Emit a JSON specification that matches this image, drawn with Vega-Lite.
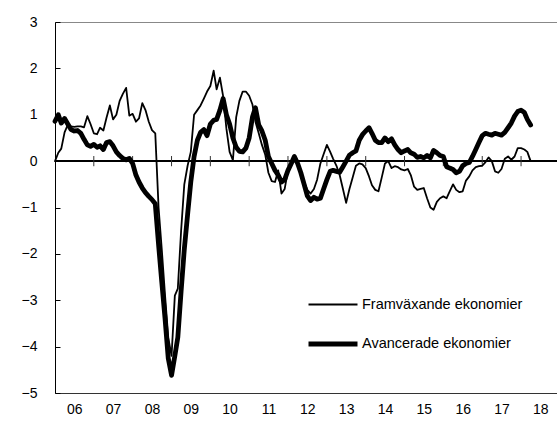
{
  "$schema": "https://vega.github.io/schema/vega-lite/v6.json",
  "width": 502,
  "height": 371,
  "autosize": {"type": "none"},
  "padding": {"left": 55, "top": 22, "right": 0, "bottom": 33},
  "background": "white",
  "config": {
    "view": {"stroke": "#888", "strokeWidth": 1},
    "font": "Liberation Sans, Arial, sans-serif"
  },
  "data": {
    "values": [
      {"d":"2006-01-01","F":0.00,"A":0.86},{"d":"2006-02-01","F":0.18,"A":1.00},{"d":"2006-03-01","F":0.27,"A":0.82},{"d":"2006-04-01","F":0.62,"A":0.92},{"d":"2006-05-01","F":0.78,"A":0.80},{"d":"2006-06-01","F":0.75,"A":0.68},{"d":"2006-07-01","F":0.74,"A":0.65},{"d":"2006-08-01","F":0.75,"A":0.66},{"d":"2006-09-01","F":0.75,"A":0.60},{"d":"2006-10-01","F":0.73,"A":0.47},{"d":"2006-11-01","F":0.97,"A":0.35},{"d":"2006-12-01","F":0.80,"A":0.32},
      {"d":"2007-01-01","F":0.60,"A":0.36},{"d":"2007-02-01","F":0.58,"A":0.30},{"d":"2007-03-01","F":0.72,"A":0.33},{"d":"2007-04-01","F":0.66,"A":0.25},{"d":"2007-05-01","F":0.94,"A":0.40},{"d":"2007-06-01","F":1.20,"A":0.42},{"d":"2007-07-01","F":0.90,"A":0.33},{"d":"2007-08-01","F":1.00,"A":0.20},{"d":"2007-09-01","F":1.30,"A":0.12},{"d":"2007-10-01","F":1.45,"A":0.06},{"d":"2007-11-01","F":1.58,"A":0.03},{"d":"2007-12-01","F":0.98,"A":0.06},
      {"d":"2008-01-01","F":1.02,"A":-0.05},{"d":"2008-02-01","F":0.85,"A":-0.30},{"d":"2008-03-01","F":0.92,"A":-0.45},{"d":"2008-04-01","F":1.25,"A":-0.58},{"d":"2008-05-01","F":1.10,"A":-0.68},{"d":"2008-06-01","F":0.85,"A":-0.76},{"d":"2008-07-01","F":0.67,"A":-0.83},{"d":"2008-08-01","F":0.60,"A":-0.92},{"d":"2008-09-01","F":-1.00,"A":-1.80},{"d":"2008-10-01","F":-1.90,"A":-2.60},{"d":"2008-11-01","F":-2.90,"A":-3.40},{"d":"2008-12-01","F":-3.80,"A":-4.25},
      {"d":"2009-01-01","F":-4.20,"A":-4.62},{"d":"2009-02-01","F":-2.90,"A":-4.20},{"d":"2009-03-01","F":-2.75,"A":-3.80},{"d":"2009-04-01","F":-1.50,"A":-2.80},{"d":"2009-05-01","F":-0.50,"A":-1.90},{"d":"2009-06-01","F":-0.10,"A":-1.15},{"d":"2009-07-01","F":0.20,"A":-0.45},{"d":"2009-08-01","F":1.00,"A":0.10},{"d":"2009-09-01","F":1.10,"A":0.45},{"d":"2009-10-01","F":1.20,"A":0.62},{"d":"2009-11-01","F":1.35,"A":0.68},{"d":"2009-12-01","F":1.50,"A":0.55},
      {"d":"2010-01-01","F":1.62,"A":0.80},{"d":"2010-02-01","F":1.95,"A":0.88},{"d":"2010-03-01","F":1.55,"A":0.90},{"d":"2010-04-01","F":1.80,"A":1.10},{"d":"2010-05-01","F":1.40,"A":1.35},{"d":"2010-06-01","F":0.70,"A":1.00},{"d":"2010-07-01","F":0.20,"A":0.80},{"d":"2010-08-01","F":0.02,"A":0.50},{"d":"2010-09-01","F":0.95,"A":0.30},{"d":"2010-10-01","F":1.30,"A":0.21},{"d":"2010-11-01","F":1.50,"A":0.20},{"d":"2010-12-01","F":1.50,"A":0.28},
      {"d":"2011-01-01","F":1.41,"A":0.50},{"d":"2011-02-01","F":1.22,"A":0.95},{"d":"2011-03-01","F":0.85,"A":1.15},{"d":"2011-04-01","F":0.60,"A":0.78},{"d":"2011-05-01","F":0.35,"A":0.65},{"d":"2011-06-01","F":0.14,"A":0.45},{"d":"2011-07-01","F":-0.25,"A":0.10},{"d":"2011-08-01","F":-0.43,"A":-0.05},{"d":"2011-09-01","F":-0.45,"A":-0.20},{"d":"2011-10-01","F":-0.20,"A":-0.30},{"d":"2011-11-01","F":-0.70,"A":-0.45},{"d":"2011-12-01","F":-0.60,"A":-0.40},
      {"d":"2012-01-01","F":-0.20,"A":-0.20},{"d":"2012-02-01","F":-0.08,"A":-0.05},{"d":"2012-03-01","F":0.10,"A":0.10},{"d":"2012-04-01","F":-0.05,"A":-0.05},{"d":"2012-05-01","F":-0.27,"A":-0.25},{"d":"2012-06-01","F":-0.45,"A":-0.50},{"d":"2012-07-01","F":-0.62,"A":-0.75},{"d":"2012-08-01","F":-0.70,"A":-0.85},{"d":"2012-09-01","F":-0.60,"A":-0.78},{"d":"2012-10-01","F":-0.40,"A":-0.82},{"d":"2012-11-01","F":-0.05,"A":-0.80},{"d":"2012-12-01","F":0.15,"A":-0.60},
      {"d":"2013-01-01","F":0.35,"A":-0.40},{"d":"2013-02-01","F":0.20,"A":-0.22},{"d":"2013-03-01","F":0.05,"A":-0.20},{"d":"2013-04-01","F":-0.10,"A":-0.22},{"d":"2013-05-01","F":-0.30,"A":-0.24},{"d":"2013-06-01","F":-0.60,"A":-0.12},{"d":"2013-07-01","F":-0.90,"A":0.00},{"d":"2013-08-01","F":-0.60,"A":0.13},{"d":"2013-09-01","F":-0.35,"A":0.18},{"d":"2013-10-01","F":-0.10,"A":0.22},{"d":"2013-11-01","F":-0.05,"A":0.45},{"d":"2013-12-01","F":-0.07,"A":0.57},
      {"d":"2014-01-01","F":-0.15,"A":0.65},{"d":"2014-02-01","F":-0.33,"A":0.72},{"d":"2014-03-01","F":-0.52,"A":0.60},{"d":"2014-04-01","F":-0.62,"A":0.45},{"d":"2014-05-01","F":-0.65,"A":0.40},{"d":"2014-06-01","F":-0.35,"A":0.40},{"d":"2014-07-01","F":-0.05,"A":0.50},{"d":"2014-08-01","F":0.00,"A":0.42},{"d":"2014-09-01","F":-0.15,"A":0.48},{"d":"2014-10-01","F":-0.11,"A":0.35},{"d":"2014-11-01","F":-0.13,"A":0.25},{"d":"2014-12-01","F":-0.18,"A":0.18},
      {"d":"2015-01-01","F":-0.20,"A":0.22},{"d":"2015-02-01","F":-0.17,"A":0.25},{"d":"2015-03-01","F":-0.30,"A":0.18},{"d":"2015-04-01","F":-0.55,"A":0.15},{"d":"2015-05-01","F":-0.62,"A":0.08},{"d":"2015-06-01","F":-0.60,"A":0.10},{"d":"2015-07-01","F":-0.58,"A":0.07},{"d":"2015-08-01","F":-0.80,"A":0.12},{"d":"2015-09-01","F":-1.00,"A":0.07},{"d":"2015-10-01","F":-1.05,"A":0.23},{"d":"2015-11-01","F":-0.88,"A":0.18},{"d":"2015-12-01","F":-0.80,"A":0.12},
      {"d":"2016-01-01","F":-0.76,"A":0.10},{"d":"2016-02-01","F":-0.80,"A":-0.12},{"d":"2016-03-01","F":-0.65,"A":-0.15},{"d":"2016-04-01","F":-0.50,"A":-0.18},{"d":"2016-05-01","F":-0.62,"A":-0.25},{"d":"2016-06-01","F":-0.67,"A":-0.22},{"d":"2016-07-01","F":-0.65,"A":-0.10},{"d":"2016-08-01","F":-0.42,"A":-0.05},{"d":"2016-09-01","F":-0.33,"A":-0.03},{"d":"2016-10-01","F":-0.20,"A":0.10},{"d":"2016-11-01","F":-0.13,"A":0.25},{"d":"2016-12-01","F":-0.11,"A":0.40},
      {"d":"2017-01-01","F":-0.10,"A":0.55},{"d":"2017-02-01","F":-0.02,"A":0.60},{"d":"2017-03-01","F":0.08,"A":0.58},{"d":"2017-04-01","F":0.00,"A":0.56},{"d":"2017-05-01","F":-0.22,"A":0.60},{"d":"2017-06-01","F":-0.25,"A":0.58},{"d":"2017-07-01","F":-0.17,"A":0.56},{"d":"2017-08-01","F":0.05,"A":0.62},{"d":"2017-09-01","F":0.10,"A":0.72},{"d":"2017-10-01","F":0.03,"A":0.82},{"d":"2017-11-01","F":0.10,"A":0.97},{"d":"2017-12-01","F":0.28,"A":1.07},
      {"d":"2018-01-01","F":0.28,"A":1.10},{"d":"2018-02-01","F":0.25,"A":1.05},{"d":"2018-03-01","F":0.20,"A":0.90},{"d":"2018-04-01","F":0.00,"A":0.78}
    ]
  },
  "layer": [
    {
      "mark": {"type": "rule", "color": "black", "strokeWidth": 1},
      "encoding": {"y": {"datum": 0, "type": "quantitative"}}
    },
    {
      "data": {"values": [
        {"yr":"2007-01-01"},{"yr":"2008-01-01"},{"yr":"2009-01-01"},{"yr":"2010-01-01"},{"yr":"2011-01-01"},{"yr":"2012-01-01"},
        {"yr":"2013-01-01"},{"yr":"2014-01-01"},{"yr":"2015-01-01"},{"yr":"2016-01-01"},{"yr":"2017-01-01"},{"yr":"2018-01-01"}
      ]},
      "mark": {"type": "rule", "color": "#333", "strokeWidth": 1},
      "encoding": {
        "x": {"field": "yr", "type": "temporal"},
        "y": {"datum": -0.11, "type": "quantitative"},
        "y2": {"datum": 0.11}
      }
    },
    {
      "transform": [{"fold": ["A", "F"], "as": ["series", "v"]}],
      "mark": {"type": "line", "color": "black", "strokeJoin": "round", "strokeCap": "round"},
      "encoding": {
        "x": {
          "field": "d",
          "type": "temporal",
          "scale": {
            "type": "utc",
            "domain": [{"year": 2006, "month": 1, "date": 1, "utc": true}, {"year": 2018, "month": 12, "date": 5, "utc": true}],
            "nice": false
          },
          "axis": {
            "title": null,
            "values": [
              {"year": 2006, "month": 7, "date": 1, "utc": true},{"year": 2007, "month": 7, "date": 1, "utc": true},{"year": 2008, "month": 7, "date": 1, "utc": true},
              {"year": 2009, "month": 7, "date": 1, "utc": true},{"year": 2010, "month": 7, "date": 1, "utc": true},{"year": 2011, "month": 7, "date": 1, "utc": true},
              {"year": 2012, "month": 7, "date": 1, "utc": true},{"year": 2013, "month": 7, "date": 1, "utc": true},{"year": 2014, "month": 7, "date": 1, "utc": true},
              {"year": 2015, "month": 7, "date": 1, "utc": true},{"year": 2016, "month": 7, "date": 1, "utc": true},{"year": 2017, "month": 7, "date": 1, "utc": true},
              {"year": 2018, "month": 7, "date": 1, "utc": true}
            ],
            "labelExpr": "utcFormat(datum.value, '%y')",
            "ticks": false,
            "grid": false,
            "domainColor": "#333",
            "labelFontSize": 14,
            "labelColor": "black",
            "labelPadding": 9,
            "labelFlush": false,
            "labelOverlap": false
          }
        },
        "y": {
          "field": "v",
          "type": "quantitative",
          "scale": {"domain": [-5, 3], "nice": false, "zero": false},
          "axis": {
            "title": null,
            "values": [-5, -4, -3, -2, -1, 0, 1, 2, 3],
            "grid": false,
            "domainColor": "black",
            "tickColor": "black",
            "tickSize": -5,
            "labelPadding": 23,
            "labelFontSize": 14,
            "labelColor": "black"
          }
        },
        "strokeWidth": {
          "field": "series",
          "type": "ordinal",
          "scale": {"type": "ordinal", "domain": ["F", "A"], "range": [1.8, 4.8]},
          "legend": {
            "orient": "none",
            "legendX": 251,
            "legendY": 257,
            "title": null,
            "symbolType": "stroke",
            "symbolSize": 2400,
            "symbolStrokeColor": "black",
            "labelFontSize": 14.5,
            "labelColor": "black",
            "labelLimit": 0,
            "labelOffset": 2,
            "rowPadding": 6,
            "padding": 0,
            "labelExpr": "datum.label == 'F' ? 'Framväxande ekonomier' : 'Avancerade ekonomier'"
          }
        },
        "detail": {"field": "series"}
      }
    }
  ]
}
